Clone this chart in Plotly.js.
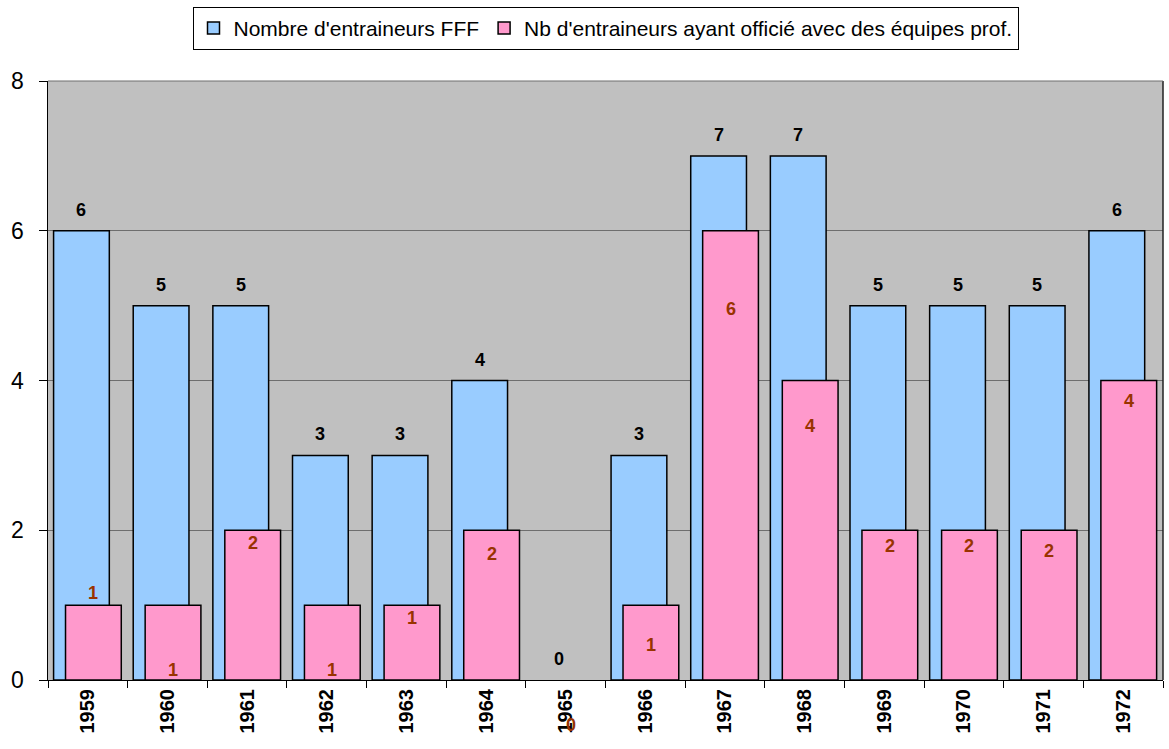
<!DOCTYPE html>
<html>
<head>
<meta charset="utf-8">
<script src="https://cdn.plot.ly/plotly-3.0.1.min.js"></script>
<style>html,body{margin:0;padding:0;background:#fff;}#chart{width:1169px;height:749px;}</style>
</head>
<body>
<div id="chart"></div>
<script>
// ---- data ----
var years = ["1959","1960","1961","1962","1963","1964","1965","1966","1967","1968","1969","1970","1971","1972"];
var nbFFF = [6,5,5,3,3,4,0,3,7,7,5,5,5,6];
var nbPro = [1,1,2,1,1,2,0,1,6,4,2,2,2,4];
var seriesNames = ["Nombre d'entraineurs FFF", "Nb d'entraineurs ayant officié avec des équipes prof."];

// ---- label placement (pixels below the bar top, as moved in the original) ----
var proLabelDrop = [-12,65,13,65,13,24,45,40,78,45,16,16,21,20];

var barW = 0.7, offFFF = -0.43, offPro = -0.28;
function edge(vals){ return vals.map(function(v){ return v > 0 ? 1.5 : 0; }); }

var traces = [
  {type:'bar', name:seriesNames[0], x:years, y:nbFFF, width:barW, offset:offFFF,
   marker:{color:'#99CCFF', line:{color:'#000', width:edge(nbFFF)}}, hoverinfo:'x+y'},
  {type:'bar', name:seriesNames[1], x:years, y:nbPro, width:barW, offset:offPro,
   marker:{color:'#FF99CC', line:{color:'#000', width:edge(nbPro)}}, hoverinfo:'x+y'}
];

var ann = [];
years.forEach(function(yr, i){
  ann.push({x:i + offFFF + barW/2, y:nbFFF[i], xref:'x', yref:'y', text:String(nbFFF[i]),
    showarrow:false, yshift:21, font:{family:'Liberation Sans, Arial, sans-serif', size:18, color:'#000', weight:'bold'}});
  ann.push({x:i + offPro + barW/2, y:nbPro[i], xref:'x', yref:'y', text:String(nbPro[i]),
    showarrow:false, yshift:-proLabelDrop[i], font:{family:'Liberation Sans, Arial, sans-serif', size:18, color:'#993300', weight:'bold'}});
});

var layout = {
  width:1169, height:749,
  margin:{l:48, r:6, t:81, b:69},
  paper_bgcolor:'#ffffff', plot_bgcolor:'#C0C0C0',
  barmode:'overlay',
  font:{family:'Liberation Sans, Arial, sans-serif', color:'#000'},
  showlegend:true,
  legend:{orientation:'h', x:0.5, xanchor:'center', xref:'paper', y:0.991, yref:'container', yanchor:'top',
    bordercolor:'#000', borderwidth:1, bgcolor:'#fff', font:{size:21, color:'#000'},
    itemwidth:30, tracegroupgap:0},
  xaxis:{type:'category', tickson:'boundaries', ticks:'outside', ticklen:7, tickcolor:'#000',
    tickangle:-90, tickfont:{size:20, weight:'bold', color:'#000'},
    showline:true, linecolor:'#000', linewidth:1, showgrid:false, zeroline:false,
    range:[-0.5, 13.5], fixedrange:true},
  yaxis:{range:[0,8], dtick:2, tick0:0, ticks:'outside', ticklen:8, tickcolor:'#000',
    tickfont:{size:23, color:'#000'}, ticklabelstandoff:10,
    showline:true, linecolor:'#000', linewidth:1.5, mirror:false,
    showgrid:true, gridcolor:'#6e6e6e', gridwidth:1, zeroline:false, fixedrange:true},
  shapes:[{type:'line', xref:'paper', yref:'paper', x0:1, x1:1, y0:0, y1:1, line:{color:'#222', width:1.5}},
          {type:'line', xref:'paper', yref:'paper', x0:0, x1:1, y0:1, y1:1, line:{color:'#6e6e6e', width:1}}],
  annotations:ann
};

Plotly.newPlot('chart', traces, layout, {displayModeBar:false, staticPlot:true});
</script>
</body>
</html>
